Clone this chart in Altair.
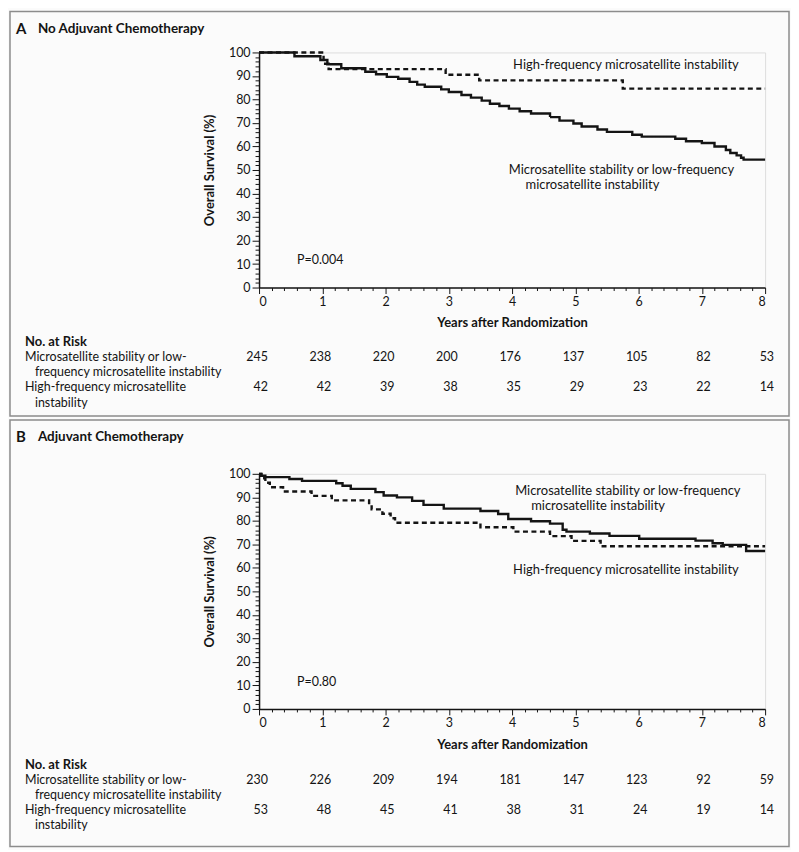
import altair as alt
import pandas as pd

FONT = "Lato"
BLACK = "#141414"
FRAME = "#8c8c8c"

# ---------------- data ----------------
risk_years = [0, 1, 2, 3, 4, 5, 6, 7, 8]
A_risk_mss = [245, 238, 220, 200, 176, 137, 105, 82, 53]
A_risk_msi = [42, 42, 39, 38, 35, 29, 23, 22, 14]
B_risk_mss = [230, 226, 209, 194, 181, 147, 123, 92, 59]
B_risk_msi = [53, 48, 45, 41, 38, 31, 24, 19, 14]

# Panel A: no adjuvant chemotherapy
A_mss_t = [0, 0.56, 0.97, 1.08, 1.3, 1.68, 1.85, 2.02, 2.2, 2.38, 2.5, 2.62, 2.88, 3.0, 3.2,
           3.35, 3.52, 3.65, 3.8, 3.95, 4.12, 4.3, 4.6, 4.75, 4.97, 5.1, 5.35, 5.5, 5.9, 6.05,
           6.58, 6.75, 7.0, 7.2, 7.38, 7.45, 7.55, 7.62, 7.66, 8.0]
A_mss_s = [100, 98.4, 96.8, 95.0, 93.3, 91.8, 90.7, 89.6, 88.8, 87.5, 86.3, 85.4, 84.3, 83.2, 81.9,
           80.8, 79.5, 78.2, 77.2, 76.1, 75.0, 74.0, 72.5, 71.0, 69.8, 68.5, 67.2, 66.2, 65.0, 64.2,
           63.3, 62.2, 61.5, 60.0, 58.5, 57.2, 56.2, 55.2, 54.4, 54.4]
A_msi_t = [0, 1.02, 1.1, 2.95, 3.48, 5.75, 8.0]
A_msi_s = [100, 95.2, 92.9, 90.5, 88.1, 84.6, 84.6]

# Panel B: adjuvant chemotherapy
B_mss_t = [0, 0.03, 0.1, 0.48, 0.68, 1.22, 1.32, 1.45, 1.84, 1.97, 2.18, 2.42, 2.6, 2.92, 3.5,
           3.78, 3.94, 4.3, 4.6, 4.8, 4.86, 5.23, 5.54, 6.01, 6.9, 7.17, 7.33, 7.7, 8.0]
B_mss_s = [100, 99.2, 98.6, 97.8, 97.0, 96.0, 94.9, 93.6, 92.2, 90.8, 90.0, 88.5, 86.8, 85.2, 84.2,
           82.9, 80.8, 79.8, 78.8, 76.2, 75.4, 74.6, 73.6, 72.4, 71.6, 70.5, 69.8, 67.2, 67.2]
B_msi_t = [0, 0.04, 0.1, 0.17, 0.38, 0.83, 1.15, 1.74, 1.78, 1.95, 2.08, 2.15, 3.5, 4.02, 4.6,
           4.94, 5.4, 8.0]
B_msi_s = [100, 98.1, 96.2, 94.3, 92.5, 90.6, 88.7, 86.8, 84.9, 83.0, 81.1, 79.2, 77.3, 75.4, 73.5,
           71.5, 69.2, 69.2]

A_ann_t = [5.8, 5.73, 5.27]
A_ann_s = [94.5, 50.2, 43.8]
A_ann_txt = ["High-frequency microsatellite instability",
             "Microsatellite stability or low-frequency",
             "microsatellite instability"]
B_ann_t = [5.83, 5.36, 5.8]
B_ann_s = [92.8, 86.1, 59.1]
B_ann_txt = ["Microsatellite stability or low-frequency",
             "microsatellite instability",
             "High-frequency microsatellite instability"]

row_labels = ["Microsatellite stability or low-",
              "frequency microsatellite instability",
              "High-frequency microsatellite",
              "instability"]

W, H = 508, 236
xscale = alt.Scale(domain=[0, 8], nice=False, zero=False)
yscale = alt.Scale(domain=[0, 100], nice=False, zero=False)
x_ticks = [round(i * 0.2, 1) for i in range(41)]
y_ticks = list(range(0, 101, 2))

X_MAJOR = "abs(datum.value - round(datum.value)) < 0.01"
Y_MAJOR = "datum.value % 10 === 0"

xaxis = alt.Axis(
    values=x_ticks, grid=False, labelOverlap=False,
    labelExpr=f"{X_MAJOR} ? format(datum.value, 'd') : ''",
    tickSize={"condition": {"test": X_MAJOR, "value": 6}, "value": 3},
    tickColor=BLACK, tickWidth=1, domainColor=BLACK, domainWidth=1.5,
    labelFont=FONT, labelFontSize=12.5, labelColor=BLACK, labelPadding=2,
    title="Years after Randomization", titleFont=FONT, titleFontSize=13,
    titleFontWeight="bold", titleColor=BLACK, titlePadding=9,
)
yaxis = alt.Axis(
    values=y_ticks, grid=False, labelOverlap=False,
    labelExpr=f"{Y_MAJOR} ? format(datum.value, 'd') : ''",
    tickSize={"condition": {"test": Y_MAJOR, "value": 7}, "value": 4},
    tickColor=BLACK, tickWidth=1, domainColor=BLACK, domainWidth=1.5,
    labelFont=FONT, labelFontSize=12.5, labelColor=BLACK, labelPadding=2,
    title="Overall Survival (%)", titleFont=FONT, titleFontSize=13,
    titleFontWeight="bold", titleColor=BLACK, titlePadding=12,
)


def one_text(txt, x, y, size=12.5, weight="normal", align="left"):
    return alt.Chart(pd.DataFrame({"txt": [txt]})).mark_text(
        align=align, baseline="middle", font=FONT, fontSize=size,
        fontWeight=weight, color=BLACK,
    ).encode(text="txt:N", x=alt.value(x), y=alt.value(y))


def panel(letter, title, mss_t, mss_s, msi_t, msi_s, r_mss, r_msi,
          ann_t, ann_s, ann_txt, ptxt, frame_y1, frame_y2, rows):
    curves = pd.DataFrame({
        "t": mss_t + msi_t,
        "s": mss_s + msi_s,
        "g": ["mss"] * len(mss_t) + ["msi"] * len(msi_t),
    })
    bx = alt.X("t:Q", scale=xscale, axis=xaxis)
    by = alt.Y("s:Q", scale=yscale, axis=yaxis)

    frame = alt.Chart(pd.DataFrame({"k": [0]})).mark_rect(
        fillOpacity=0, stroke=FRAME, strokeWidth=1.5
    ).encode(x=alt.value(-250), x2=alt.value(532),
             y=alt.value(frame_y1), y2=alt.value(frame_y2))

    lines = alt.Chart(curves).mark_line(
        interpolate="step-after", color=BLACK, strokeWidth=2.4
    ).encode(
        x=bx, y=by,
        strokeDash=alt.StrokeDash(
            "g:N", legend=None,
            scale=alt.Scale(domain=["mss", "msi"], range=[[1, 0], [5, 3.5]])),
    )

    ann = alt.Chart(pd.DataFrame({"t": ann_t, "s": ann_s, "txt": ann_txt})).mark_text(
        align="center", baseline="middle", font=FONT, fontSize=13, color=BLACK
    ).encode(x=bx, y=by, text="txt:N")

    pv = alt.Chart(pd.DataFrame({"t": [0.6], "s": [11.5], "txt": [ptxt]})).mark_text(
        align="left", baseline="middle", font=FONT, fontSize=12.5, color=BLACK
    ).encode(x=bx, y=by, text="txt:N")

    ttl_y = frame_y1 + 17
    t1 = one_text(letter, -244, ttl_y, size=15, weight="bold")
    t2 = one_text(title, -222, ttl_y, size=13.5, weight="bold")

    hdr = one_text("No. at Risk", -235, rows[0], size=13, weight="bold")
    l1 = one_text(row_labels[0], -235, rows[1])
    l2 = one_text(row_labels[1], -225, rows[2])
    l3 = one_text(row_labels[2], -235, rows[3])
    l4 = one_text(row_labels[3], -225, rows[4])

    def nums(vals, y):
        return alt.Chart(pd.DataFrame({"t": risk_years, "n": vals})).mark_text(
            align="right", baseline="middle", dx=9, font=FONT, fontSize=12.5, color=BLACK
        ).encode(x=bx, y=alt.value(y), text="n:Q")

    n1 = nums(r_mss, rows[1])
    n2 = nums(r_msi, rows[3])

    return alt.layer(lines, frame, ann, pv, t1, t2, hdr, l1, l2, l3, l4, n1, n2).properties(
        width=W, height=H)


panelA = panel("A", "No Adjuvant Chemotherapy", A_mss_t, A_mss_s, A_msi_t, A_msi_s,
               A_risk_mss, A_risk_msi, A_ann_t, A_ann_s, A_ann_txt, "P=0.004",
               -41, 365, [291, 306, 321, 336, 352])
panelB = panel("B", "Adjuvant Chemotherapy", B_mss_t, B_mss_s, B_msi_t, B_msi_s,
               B_risk_mss, B_risk_msi, B_ann_t, B_ann_s, B_ann_txt, "P=0.80",
               -54, 374, [292, 307, 322, 337, 353])

chart = alt.vconcat(panelA, panelB, spacing=0).properties(
    padding=0, background="#fbfbfb"
).configure_view(strokeWidth=0).configure(font=FONT)

chart.save("out.html", embed_options={"renderer": "svg", "actions": False})
